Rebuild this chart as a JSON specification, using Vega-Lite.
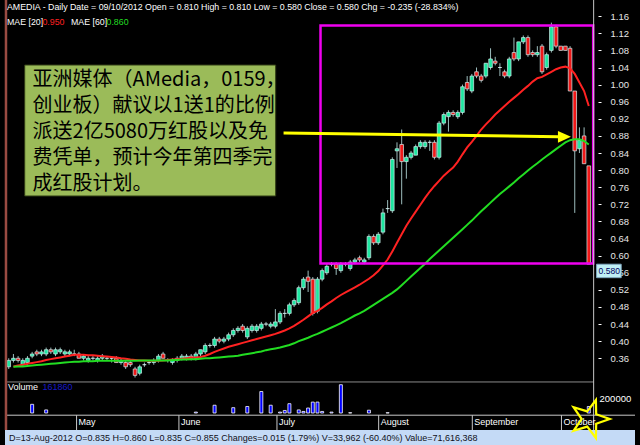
{
"$schema":"https://vega.github.io/schema/vega-lite/v6.json",
"width":640,"height":445,"autosize":{"type":"none"},"padding":0,
"background":"#000000",
"config":{"view":{"stroke":null}},
"data":{"values":[
{"i":0,"o":0.34,"h":0.36,"l":0.335,"c":0.355,"v":0},
{"i":1,"o":0.355,"h":0.37,"l":0.35,"c":0.36,"a":0.341,"b":0.34,"v":0},
{"i":2,"o":0.36,"h":0.365,"l":0.35,"c":0.355,"a":0.343,"b":0.341,"v":0},
{"i":3,"o":0.345,"h":0.36,"l":0.34,"c":0.355,"a":0.345,"b":0.341,"v":0},
{"i":4,"o":0.35,"h":0.365,"l":0.345,"c":0.36,"a":0.347,"b":0.342,"v":0},
{"i":5,"o":0.365,"h":0.375,"l":0.36,"c":0.37,"a":0.349,"b":0.343,"v":124000},
{"i":6,"o":0.375,"h":0.38,"l":0.365,"c":0.37,"a":0.351,"b":0.344,"v":0},
{"i":7,"o":0.37,"h":0.38,"l":0.365,"c":0.375,"a":0.353,"b":0.345,"v":0},
{"i":8,"o":0.37,"h":0.385,"l":0.365,"c":0.38,"a":0.356,"b":0.346,"v":44000},
{"i":9,"o":0.38,"h":0.385,"l":0.37,"c":0.375,"a":0.358,"b":0.347,"v":0},
{"i":10,"o":0.37,"h":0.385,"l":0.365,"c":0.38,"a":0.36,"b":0.348,"v":0},
{"i":11,"o":0.375,"h":0.385,"l":0.37,"c":0.38,"a":0.362,"b":0.349,"v":0},
{"i":12,"o":0.37,"h":0.38,"l":0.365,"c":0.375,"a":0.364,"b":0.35,"v":0},
{"i":13,"o":0.37,"h":0.38,"l":0.365,"c":0.375,"a":0.366,"b":0.351,"v":0},
{"i":14,"o":0.37,"h":0.38,"l":0.365,"c":0.37,"a":0.368,"b":0.352,"v":0},
{"i":15,"o":0.37,"h":0.375,"l":0.36,"c":0.36,"a":0.368,"b":0.352,"v":0},
{"i":16,"o":0.36,"h":0.37,"l":0.355,"c":0.365,"a":0.368,"b":0.353,"v":0},
{"i":17,"o":0.355,"h":0.365,"l":0.35,"c":0.36,"a":0.367,"b":0.353,"v":0},
{"i":18,"o":0.36,"h":0.365,"l":0.355,"c":0.36,"a":0.367,"b":0.353,"v":0},
{"i":19,"o":0.355,"h":0.365,"l":0.35,"c":0.36,"a":0.366,"b":0.354,"v":0},
{"i":20,"o":0.36,"h":0.37,"l":0.355,"c":0.365,"a":0.365,"b":0.354,"v":0},
{"i":21,"o":0.36,"h":0.365,"l":0.355,"c":0.36,"a":0.364,"b":0.354,"v":0},
{"i":22,"o":0.36,"h":0.365,"l":0.35,"c":0.36,"a":0.363,"b":0.354,"v":0},
{"i":23,"o":0.36,"h":0.365,"l":0.35,"c":0.35,"a":0.362,"b":0.354,"v":0},
{"i":24,"o":0.35,"h":0.36,"l":0.345,"c":0.355,"a":0.36,"b":0.354,"v":0},
{"i":25,"o":0.35,"h":0.355,"l":0.335,"c":0.34,"a":0.359,"b":0.354,"v":0},
{"i":26,"o":0.35,"h":0.355,"l":0.34,"c":0.345,"a":0.357,"b":0.354,"v":0},
{"i":27,"o":0.335,"h":0.34,"l":0.315,"c":0.32,"a":0.356,"b":0.354,"v":0},
{"i":28,"o":0.325,"h":0.345,"l":0.32,"c":0.34,"a":0.355,"b":0.355,"v":0},
{"i":29,"o":0.345,"h":0.35,"l":0.34,"c":0.345,"a":0.355,"b":0.355,"v":0},
{"i":30,"o":0.35,"h":0.355,"l":0.345,"c":0.35,"a":0.354,"b":0.355,"v":0},
{"i":31,"o":0.35,"h":0.36,"l":0.345,"c":0.355,"a":0.354,"b":0.355,"v":0},
{"i":32,"o":0.355,"h":0.37,"l":0.35,"c":0.365,"a":0.354,"b":0.355,"v":0},
{"i":33,"o":0.37,"h":0.375,"l":0.36,"c":0.36,"a":0.355,"b":0.355,"v":0},
{"i":34,"o":0.355,"h":0.36,"l":0.35,"c":0.355,"a":0.356,"b":0.355,"v":0},
{"i":35,"o":0.35,"h":0.36,"l":0.345,"c":0.355,"a":0.357,"b":0.356,"v":0},
{"i":36,"o":0.355,"h":0.365,"l":0.35,"c":0.36,"a":0.358,"b":0.356,"v":0},
{"i":37,"o":0.36,"h":0.37,"l":0.355,"c":0.365,"a":0.359,"b":0.357,"v":0},
{"i":38,"o":0.36,"h":0.37,"l":0.355,"c":0.365,"a":0.36,"b":0.357,"v":0},
{"i":39,"o":0.365,"h":0.37,"l":0.355,"c":0.36,"a":0.361,"b":0.358,"v":0},
{"i":40,"o":0.36,"h":0.375,"l":0.355,"c":0.37,"a":0.362,"b":0.358,"v":13000},
{"i":41,"o":0.37,"h":0.38,"l":0.365,"c":0.38,"a":0.363,"b":0.359,"v":0},
{"i":42,"o":0.375,"h":0.395,"l":0.37,"c":0.39,"a":0.366,"b":0.36,"v":0},
{"i":43,"o":0.39,"h":0.395,"l":0.385,"c":0.39,"a":0.37,"b":0.36,"v":0},
{"i":44,"o":0.39,"h":0.41,"l":0.385,"c":0.405,"a":0.375,"b":0.361,"v":111000},
{"i":45,"o":0.405,"h":0.41,"l":0.395,"c":0.4,"a":0.379,"b":0.362,"v":0},
{"i":46,"o":0.4,"h":0.41,"l":0.395,"c":0.405,"a":0.383,"b":0.363,"v":0},
{"i":47,"o":0.405,"h":0.42,"l":0.4,"c":0.415,"a":0.387,"b":0.364,"v":0},
{"i":48,"o":0.415,"h":0.43,"l":0.41,"c":0.425,"a":0.39,"b":0.365,"v":76000},
{"i":49,"o":0.425,"h":0.435,"l":0.42,"c":0.43,"a":0.393,"b":0.366,"v":0},
{"i":50,"o":0.435,"h":0.44,"l":0.42,"c":0.425,"a":0.396,"b":0.368,"v":0},
{"i":51,"o":0.41,"h":0.435,"l":0.405,"c":0.43,"a":0.399,"b":0.37,"v":93000},
{"i":52,"o":0.425,"h":0.44,"l":0.42,"c":0.435,"a":0.402,"b":0.372,"v":0},
{"i":53,"o":0.425,"h":0.44,"l":0.42,"c":0.435,"a":0.405,"b":0.374,"v":0},
{"i":54,"o":0.43,"h":0.445,"l":0.425,"c":0.44,"a":0.408,"b":0.376,"v":307000},
{"i":55,"o":0.44,"h":0.445,"l":0.435,"c":0.44,"a":0.411,"b":0.379,"v":0},
{"i":56,"o":0.435,"h":0.445,"l":0.43,"c":0.44,"a":0.414,"b":0.381,"v":111000},
{"i":57,"o":0.435,"h":0.475,"l":0.43,"c":0.445,"a":0.417,"b":0.383,"v":0},
{"i":58,"o":0.445,"h":0.47,"l":0.44,"c":0.465,"a":0.421,"b":0.385,"v":13000},
{"i":59,"o":0.465,"h":0.475,"l":0.455,"c":0.465,"a":0.425,"b":0.388,"v":36000},
{"i":60,"o":0.465,"h":0.49,"l":0.46,"c":0.485,"a":0.43,"b":0.391,"v":133000},
{"i":61,"o":0.485,"h":0.5,"l":0.48,"c":0.495,"a":0.436,"b":0.395,"v":0},
{"i":62,"o":0.49,"h":0.53,"l":0.485,"c":0.525,"a":0.443,"b":0.4,"v":44000},
{"i":63,"o":0.525,"h":0.55,"l":0.52,"c":0.545,"a":0.45,"b":0.404,"v":22000},
{"i":64,"o":0.55,"h":0.565,"l":0.515,"c":0.54,"a":0.458,"b":0.408,"v":71000},
{"i":65,"o":0.545,"h":0.55,"l":0.46,"c":0.465,"a":0.466,"b":0.413,"v":156000},
{"i":66,"o":0.47,"h":0.55,"l":0.465,"c":0.545,"a":0.471,"b":0.417,"v":156000},
{"i":67,"o":0.545,"h":0.57,"l":0.54,"c":0.565,"a":0.478,"b":0.422,"v":22000},
{"i":68,"o":0.56,"h":0.58,"l":0.555,"c":0.575,"a":0.486,"b":0.427,"v":0},
{"i":69,"o":0.58,"h":0.585,"l":0.575,"c":0.58,"a":0.493,"b":0.432,"v":13000},
{"i":70,"o":0.58,"h":0.585,"l":0.555,"c":0.57,"a":0.501,"b":0.437,"v":0},
{"i":71,"o":0.565,"h":0.585,"l":0.56,"c":0.58,"a":0.508,"b":0.442,"v":404000},
{"i":72,"o":0.58,"h":0.585,"l":0.575,"c":0.58,"a":0.514,"b":0.448,"v":0},
{"i":73,"o":0.57,"h":0.59,"l":0.565,"c":0.585,"a":0.52,"b":0.454,"v":4000},
{"i":74,"o":0.585,"h":0.595,"l":0.58,"c":0.59,"a":0.526,"b":0.46,"v":0},
{"i":75,"o":0.595,"h":0.6,"l":0.585,"c":0.59,"a":0.532,"b":0.465,"v":0},
{"i":76,"o":0.585,"h":0.595,"l":0.58,"c":0.59,"a":0.539,"b":0.471,"v":0},
{"i":77,"o":0.595,"h":0.65,"l":0.59,"c":0.645,"a":0.546,"b":0.478,"v":40000},
{"i":78,"o":0.645,"h":0.65,"l":0.625,"c":0.63,"a":0.554,"b":0.485,"v":0},
{"i":79,"o":0.63,"h":0.655,"l":0.625,"c":0.65,"a":0.564,"b":0.492,"v":0},
{"i":80,"o":0.655,"h":0.71,"l":0.65,"c":0.7,"a":0.577,"b":0.499,"v":0},
{"i":81,"o":0.71,"h":0.73,"l":0.7,"c":0.71,"a":0.591,"b":0.506,"v":4000},
{"i":82,"o":0.705,"h":0.83,"l":0.7,"c":0.825,"a":0.61,"b":0.513,"v":0},
{"i":83,"o":0.845,"h":0.865,"l":0.805,"c":0.85,"a":0.63,"b":0.521,"v":0},
{"i":84,"o":0.86,"h":0.895,"l":0.72,"c":0.82,"a":0.65,"b":0.531,"v":0},
{"i":85,"o":0.82,"h":0.835,"l":0.78,"c":0.83,"a":0.67,"b":0.541,"v":0},
{"i":86,"o":0.83,"h":0.845,"l":0.825,"c":0.84,"a":0.687,"b":0.551,"v":0},
{"i":87,"o":0.835,"h":0.86,"l":0.835,"c":0.855,"a":0.703,"b":0.561,"v":0},
{"i":88,"o":0.855,"h":0.87,"l":0.85,"c":0.865,"a":0.719,"b":0.571,"v":0},
{"i":89,"o":0.855,"h":0.87,"l":0.85,"c":0.865,"a":0.735,"b":0.581,"v":0},
{"i":90,"o":0.865,"h":0.87,"l":0.845,"c":0.865,"a":0.75,"b":0.592,"v":0},
{"i":91,"o":0.865,"h":0.87,"l":0.825,"c":0.83,"a":0.763,"b":0.602,"v":0},
{"i":92,"o":0.83,"h":0.915,"l":0.825,"c":0.91,"a":0.775,"b":0.612,"v":0},
{"i":93,"o":0.91,"h":0.935,"l":0.905,"c":0.93,"a":0.787,"b":0.622,"v":0},
{"i":94,"o":0.925,"h":0.94,"l":0.89,"c":0.935,"a":0.797,"b":0.632,"v":0},
{"i":95,"o":0.935,"h":0.94,"l":0.925,"c":0.93,"a":0.806,"b":0.642,"v":0},
{"i":96,"o":0.925,"h":0.94,"l":0.92,"c":0.935,"a":0.82,"b":0.652,"v":0},
{"i":97,"o":0.935,"h":1.0,"l":0.93,"c":0.995,"a":0.837,"b":0.662,"v":0},
{"i":98,"o":1.005,"h":1.02,"l":0.985,"c":0.99,"a":0.853,"b":0.672,"v":0},
{"i":99,"o":0.985,"h":1.025,"l":0.98,"c":1.02,"a":0.866,"b":0.682,"v":0},
{"i":100,"o":1.03,"h":1.04,"l":1.015,"c":1.02,"a":0.88,"b":0.693,"v":0},
{"i":101,"o":1.02,"h":1.025,"l":1.005,"c":1.01,"a":0.895,"b":0.704,"v":0},
{"i":102,"o":1.02,"h":1.05,"l":1.015,"c":1.05,"a":0.907,"b":0.714,"v":0},
{"i":103,"o":1.04,"h":1.085,"l":1.035,"c":1.06,"a":0.918,"b":0.724,"v":0},
{"i":104,"o":1.055,"h":1.065,"l":1.045,"c":1.05,"a":0.93,"b":0.734,"v":0},
{"i":105,"o":1.04,"h":1.05,"l":1.02,"c":1.04,"a":0.94,"b":0.744,"v":0},
{"i":106,"o":1.03,"h":1.035,"l":1.015,"c":1.02,"a":0.95,"b":0.753,"v":0},
{"i":107,"o":1.02,"h":1.065,"l":1.015,"c":1.06,"a":0.96,"b":0.762,"v":0},
{"i":108,"o":1.075,"h":1.11,"l":1.055,"c":1.06,"a":0.969,"b":0.771,"v":0},
{"i":109,"o":1.06,"h":1.1,"l":1.055,"c":1.1,"a":0.978,"b":0.781,"v":0},
{"i":110,"o":1.1,"h":1.115,"l":1.095,"c":1.11,"a":0.988,"b":0.79,"v":0},
{"i":111,"o":1.11,"h":1.115,"l":1.065,"c":1.07,"a":0.997,"b":0.799,"v":0},
{"i":112,"o":1.075,"h":1.08,"l":1.065,"c":1.07,"a":1.007,"b":0.808,"v":0},
{"i":113,"o":1.07,"h":1.09,"l":1.065,"c":1.075,"a":1.015,"b":0.816,"v":0},
{"i":114,"o":1.09,"h":1.095,"l":1.025,"c":1.03,"a":1.018,"b":0.825,"v":0},
{"i":115,"o":1.04,"h":1.075,"l":1.035,"c":1.07,"a":1.024,"b":0.833,"v":0},
{"i":116,"o":1.08,"h":1.145,"l":1.075,"c":1.135,"a":1.03,"b":0.841,"v":0},
{"i":117,"o":1.135,"h":1.14,"l":1.085,"c":1.09,"a":1.036,"b":0.849,"v":0},
{"i":118,"o":1.09,"h":1.09,"l":1.08,"c":1.08,"a":1.04,"b":0.857,"v":0},
{"i":119,"o":1.09,"h":1.09,"l":1.08,"c":1.08,"a":1.042,"b":0.865,"v":0},
{"i":120,"o":1.085,"h":1.09,"l":0.985,"c":0.985,"a":1.038,"b":0.87,"v":0},
{"i":121,"o":0.985,"h":0.985,"l":0.7,"c":0.845,"a":1.025,"b":0.872,"v":0},
{"i":122,"o":0.85,"h":0.9,"l":0.84,"c":0.87,"a":1.005,"b":0.872,"v":0},
{"i":123,"o":0.88,"h":0.9,"l":0.815,"c":0.815,"a":0.985,"b":0.868,"v":0},
{"i":124,"o":0.81,"h":0.81,"l":0.58,"c":0.58,"a":0.95,"b":0.86,"v":93000}
]},
"layer":[
{"transform":[{"filter":"datum.v > 0"}],"mark":{"type":"bar","size":3,"fill":"#0000FF","stroke":"#FFFFFF","strokeWidth":0.8},
"encoding":{"x":{"field":"i","type":"quantitative","scale":{"domain":[-0.8,133.88],"nice":false,"zero":false},"axis":null},
"y":{"field":"v","type":"quantitative","scale":{"domain":[-457143,5900000],"nice":false,"zero":false},"axis":null},"y2":{"datum":0}}},
{"data":{"values":[{}]},"mark":{"type":"rect","fill":"#C4DAF6"},
"encoding":{"x":{"datum":-0.8,"type":"quantitative","axis":null},"x2":{"datum":133.88},
"y":{"datum":0.1922,"type":"quantitative","scale":{"domain":[0.15718,1.19788],"nice":false,"zero":false},"axis":null},"y2":{"datum":0.15718}}},
{"data":{"values":[{}]},"mark":{"type":"rect","fill":"#9BBB59","stroke":"#2F3A14","strokeWidth":1},
"encoding":{"x":{"datum":3.41,"type":"quantitative","axis":null},"x2":{"datum":57.07},
"y":{"datum":1.0459,"type":"quantitative","scale":{"domain":[0.15718,1.19788],"nice":false,"zero":false},"axis":null},"y2":{"datum":0.7395}}},
{"mark":{"type":"rule","color":"#9CBCBC","strokeWidth":1},
"encoding":{"x":{"field":"i","type":"quantitative","axis":null},
"y":{"field":"l","type":"quantitative","scale":{"domain":[0.15718,1.19788],"nice":false,"zero":false},
"axis":{"orient":"right","offset":-42,"values":[0.36,0.4,0.44,0.48,0.52,0.56,0.6,0.64,0.68,0.72,0.76,0.8,0.84,0.88,0.92,0.96,1.0,1.04,1.08,1.12,1.16],"format":".2f","domain":false,"grid":false,"ticks":true,"tickColor":"#FFFFFF","tickSize":3,"labelPadding":9,"labelColor":"#E6E6E6","labelFont":"Liberation Sans","labelFontSize":9.5,"title":null,"labelAlign":"left","labelBaseline":"middle","labelFlush":false,"labelOverlap":false}},
"y2":{"field":"h"}}},
{"mark":{"type":"bar","size":3.6,"stroke":"#D2EEEE","strokeWidth":0.7},
"encoding":{"x":{"field":"i","type":"quantitative","axis":null},
"y":{"field":"o","type":"quantitative","scale":{"domain":[0.15718,1.19788],"nice":false,"zero":false},"axis":null},"y2":{"field":"c"},
"fill":{"condition":{"test":"datum.c < datum.o","value":"#F01818"},"value":"#1EE6A0"}}},
{"mark":{"type":"line","color":"#FF2222","strokeWidth":2},
"encoding":{"x":{"field":"i","type":"quantitative","axis":null},"y":{"field":"a","type":"quantitative","scale":{"domain":[0.15718,1.19788],"nice":false,"zero":false},"axis":null}}},
{"mark":{"type":"line","color":"#22DD22","strokeWidth":2},
"encoding":{"x":{"field":"i","type":"quantitative","axis":null},"y":{"field":"b","type":"quantitative","scale":{"domain":[0.15718,1.19788],"nice":false,"zero":false},"axis":null}}},
{"data":{"values":[{}]},"mark":{"type":"rect","fill":"transparent","stroke":"#F000F0","strokeWidth":2.5},
"encoding":{"x":{"datum":66.65,"type":"quantitative","axis":null},"x2":{"datum":124.94},
"y":{"datum":1.1382,"type":"quantitative","scale":{"domain":[0.15718,1.19788],"nice":false,"zero":false},"axis":null},"y2":{"datum":0.5817}}},
{"data":{"values":[{}]},"mark":{"type":"rule","color":"#FFFF00","strokeWidth":3},
"encoding":{"x":{"datum":58.75,"type":"quantitative","axis":null},"x2":{"datum":117.6},
"y":{"datum":0.8868,"type":"quantitative","scale":{"domain":[0.15718,1.19788],"nice":false,"zero":false},"axis":null},"y2":{"datum":0.8782}}},
{"data":{"values":[{}]},"mark":{"type":"point","shape":"M-1,-0.9L1,0L-1,0.9Z","size":169,"filled":true,"color":"#FFFF00","opacity":1},
"encoding":{"x":{"datum":118.8,"type":"quantitative","axis":null},"y":{"datum":0.878,"type":"quantitative","scale":{"domain":[0.15718,1.19788],"nice":false,"zero":false},"axis":null}}},
{"data":{"values":[{}]},"mark":{"type":"rule","color":"#8A8A8A","strokeWidth":1},
"encoding":{"x":{"datum":-0.8,"type":"quantitative","axis":null},"x2":{"datum":125.04},"y":{"datum":0.3046,"type":"quantitative","scale":{"domain":[0.15718,1.19788],"nice":false,"zero":false},"axis":null}}},
{"data":{"values":[{}]},"mark":{"type":"rule","color":"#C8C8C8","strokeWidth":1},
"encoding":{"x":{"datum":-0.8,"type":"quantitative","axis":null},"x2":{"datum":133.88},"y":{"datum":0.2269,"type":"quantitative","scale":{"domain":[0.15718,1.19788],"nice":false,"zero":false},"axis":null}}},
{"data":{"values":[{}]},"mark":{"type":"rule","color":"#C8C8C8","strokeWidth":1},
"encoding":{"x":{"datum":125.04,"type":"quantitative","axis":null},"y":{"datum":1.19788,"type":"quantitative","scale":{"domain":[0.15718,1.19788],"nice":false,"zero":false},"axis":null},"y2":{"datum":0.1922}}},
{"data":{"values":[{}]},"mark":{"type":"rule","color":"#9A4B42","strokeWidth":2.5},
"encoding":{"x":{"datum":-0.59,"type":"quantitative","axis":null},"y":{"datum":1.19788,"type":"quantitative","scale":{"domain":[0.15718,1.19788],"nice":false,"zero":false},"axis":null},"y2":{"datum":0.1922}}},
{"data":{"values":[{"m":"May","s":14.5},{"m":"June","s":36.38},{"m":"July","s":57.34},{"m":"August","s":79.08},{"m":"September","s":99.1},{"m":"October","s":118.16}]},
"mark":{"type":"rule","color":"#C8C8C8","strokeWidth":1},
"encoding":{"x":{"field":"s","type":"quantitative","axis":null},"y":{"datum":0.2269,"type":"quantitative","scale":{"domain":[0.15718,1.19788],"nice":false,"zero":false},"axis":null},"y2":{"datum":0.1922}}},
{"data":{"values":[{"m":"May","s":14.5},{"m":"June","s":36.38},{"m":"July","s":57.34},{"m":"August","s":79.08},{"m":"September","s":99.1},{"m":"October","s":118.16}]},
"mark":{"type":"text","align":"left","baseline":"middle","dx":2,"font":"Liberation Sans","fontSize":9,"color":"#FFFFFF"},
"encoding":{"x":{"field":"s","type":"quantitative","axis":null},"y":{"datum":0.2098,"type":"quantitative","scale":{"domain":[0.15718,1.19788],"nice":false,"zero":false},"axis":null},"text":{"field":"m"}}},
{"data":{"values":[{}]},"mark":{"type":"text","align":"left","baseline":"middle","font":"Liberation Sans","fontSize":8.8,"color":"#FFFFFF"},
"encoding":{"x":{"datum":-0.38,"type":"quantitative","axis":null},"y":{"datum":1.1815,"type":"quantitative","scale":{"domain":[0.15718,1.19788],"nice":false,"zero":false},"axis":null},
"text":{"value":"AMEDIA - Daily Date = 09/10/2012  Open = 0.810 High = 0.810 Low = 0.580 Close = 0.580 Chg = -0.235 (-28.834%)"}}},
{"data":{"values":[{}]},"mark":{"type":"text","align":"left","baseline":"middle","font":"Liberation Sans","fontSize":8.8,"color":"#FFFFFF"},
"encoding":{"x":{"datum":-0.38,"type":"quantitative","axis":null},"y":{"datum":1.1464,"type":"quantitative","scale":{"domain":[0.15718,1.19788],"nice":false,"zero":false},"axis":null},"text":{"value":"MAE [20]"}}},
{"data":{"values":[{}]},"mark":{"type":"text","align":"left","baseline":"middle","font":"Liberation Sans","fontSize":8.8,"color":"#FF2020"},
"encoding":{"x":{"datum":7.2,"type":"quantitative","axis":null},"y":{"datum":1.1464,"type":"quantitative","scale":{"domain":[0.15718,1.19788],"nice":false,"zero":false},"axis":null},"text":{"value":"0.950"}}},
{"data":{"values":[{}]},"mark":{"type":"text","align":"left","baseline":"middle","font":"Liberation Sans","fontSize":8.8,"color":"#FFFFFF"},
"encoding":{"x":{"datum":13.3,"type":"quantitative","axis":null},"y":{"datum":1.1464,"type":"quantitative","scale":{"domain":[0.15718,1.19788],"nice":false,"zero":false},"axis":null},"text":{"value":"MAE [60]"}}},
{"data":{"values":[{}]},"mark":{"type":"text","align":"left","baseline":"middle","font":"Liberation Sans","fontSize":8.8,"color":"#22DD22"},
"encoding":{"x":{"datum":20.9,"type":"quantitative","axis":null},"y":{"datum":1.1464,"type":"quantitative","scale":{"domain":[0.15718,1.19788],"nice":false,"zero":false},"axis":null},"text":{"value":"0.860"}}},
{"data":{"values":[{}]},"mark":{"type":"text","align":"left","baseline":"top","font":"Noto Sans CJK SC","fontSize":20,"lineHeight":26,"color":"#000000"},
"encoding":{"x":{"datum":5.09,"type":"quantitative","axis":null},"y":{"datum":1.0342,"type":"quantitative","scale":{"domain":[0.15718,1.19788],"nice":false,"zero":false},"axis":null},
"text":{"value":["亚洲媒体（AMedia，0159，","创业板）献议以1送1的比例","派送2亿5080万红股以及免","费凭单，预计今年第四季完","成红股计划。"]}}},
{"data":{"values":[{}]},"mark":{"type":"text","align":"left","baseline":"middle","font":"Liberation Sans","fontSize":9,"color":"#FFFFFF"},
"encoding":{"x":{"datum":-0.17,"type":"quantitative","axis":null},"y":{"datum":0.2917,"type":"quantitative","scale":{"domain":[0.15718,1.19788],"nice":false,"zero":false},"axis":null},"text":{"value":"Volume"}}},
{"data":{"values":[{}]},"mark":{"type":"text","align":"left","baseline":"middle","font":"Liberation Sans","fontSize":9,"color":"#1818C8"},
"encoding":{"x":{"datum":7.2,"type":"quantitative","axis":null},"y":{"datum":0.2917,"type":"quantitative","scale":{"domain":[0.15718,1.19788],"nice":false,"zero":false},"axis":null},"text":{"value":"161860"}}},
{"data":{"values":[{}]},"mark":{"type":"text","align":"left","baseline":"middle","font":"Liberation Sans","fontSize":9.5,"color":"#FFFFFF"},
"encoding":{"x":{"datum":126.3,"type":"quantitative","axis":null},"y":{"datum":0.2636,"type":"quantitative","scale":{"domain":[0.15718,1.19788],"nice":false,"zero":false},"axis":null},"text":{"value":"200000"}}},
{"data":{"values":[{}]},"mark":{"type":"text","align":"left","baseline":"middle","font":"Liberation Sans","fontSize":9,"color":"#101020"},
"encoding":{"x":{"datum":0.04,"type":"quantitative","axis":null},"y":{"datum":0.1747,"type":"quantitative","scale":{"domain":[0.15718,1.19788],"nice":false,"zero":false},"axis":null},
"text":{"value":"D=13-Aug-2012 O=0.835 H=0.860 L=0.835 C=0.855 Changes=0.015 (1.79%) V=33,962 (-60.40%) Value=71,616,368"}}},
{"data":{"values":[{}]},"mark":{"type":"rect","fill":"#BFEFF5","stroke":"#7FA7C0","strokeWidth":1},
"encoding":{"x":{"datum":125.67,"type":"quantitative","axis":null},"x2":{"datum":130.93},"y":{"datum":0.58,"type":"quantitative","scale":{"domain":[0.15718,1.19788],"nice":false,"zero":false},"axis":null},"y2":{"datum":0.5485}}},
{"data":{"values":[{}]},"mark":{"type":"text","align":"left","baseline":"middle","font":"Liberation Sans","fontSize":8.5,"color":"#000060"},
"encoding":{"x":{"datum":126.1,"type":"quantitative","axis":null},"y":{"datum":0.5641,"type":"quantitative","scale":{"domain":[0.15718,1.19788],"nice":false,"zero":false},"axis":null},"text":{"value":"0.580"}}},
{"data":{"values":[{}]},"mark":{"type":"point","shape":"M0,-1L0.235,-0.324L0.951,-0.309L0.38,0.124L0.588,0.809L0,0.4L-0.588,0.809L-0.38,0.124L-0.951,-0.309L-0.235,-0.324Z","size":1600,"filled":false,"color":"#FFFF00","strokeWidth":2.2,"angle":18,"opacity":1},
"encoding":{"x":{"datum":124.2,"type":"quantitative","axis":null},"y":{"datum":0.218,"type":"quantitative","scale":{"domain":[0.15718,1.19788],"nice":false,"zero":false},"axis":null}}}
],
"resolve":{"scale":{"y":"independent"}}
}
